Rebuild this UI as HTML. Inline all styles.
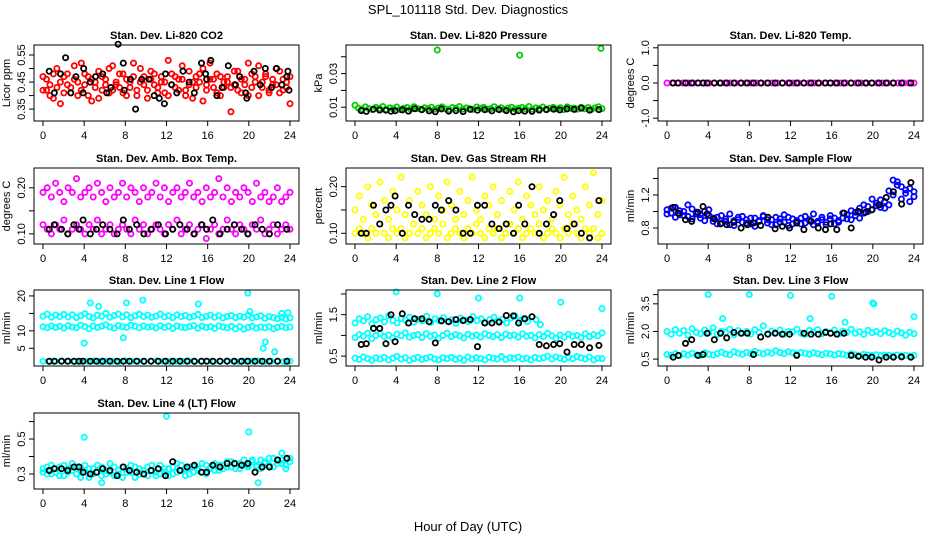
<!DOCTYPE html>
<html><head><meta charset="utf-8"><style>
html,body{margin:0;padding:0;background:#fff;}
svg{display:block;font-family:"Liberation Sans",sans-serif;}
</style></head><body>
<svg id="chart" width="936" height="540" viewBox="0 0 936 540" xmlns="http://www.w3.org/2000/svg">
<rect width="936" height="540" fill="#fff"/>
<text x="468" y="14" text-anchor="middle" font-size="13">SPL_101118  Std. Dev. Diagnostics</text>
<text x="468" y="531" text-anchor="middle" font-size="13">Hour of Day (UTC)</text>
</svg>
<script>
// ---- data ----
const xTicks = [0,4,8,12,16,20,24];
const blackHours = [0.6,1.1,1.8,2.4,3.0,3.5,3.9,4.6,5.2,5.8,6.5,7.2,7.8,8.4,9.1,9.8,10.5,11.2,11.9,12.6,13.3,14.0,14.7,15.4,15.9,16.5,17.2,17.9,18.6,19.3,19.9,20.6,21.3,22.0,22.8,23.7];

const co2Red1 = [0.47,0.42,0.44,0.39,0.50,0.45,0.41,0.48,0.43,0.46,0.40,0.52,0.44,0.47,0.38,0.45,0.49,0.42,0.46,0.41,0.51,0.44,0.43,0.48,0.40,0.45,0.47,0.42,0.50,0.44,0.39,0.46,0.48,0.43,0.45,0.41,0.53,0.44,0.47,0.42,0.46,0.40,0.49,0.45,0.43,0.48,0.38,0.44,0.52,0.46,0.41,0.47,0.43,0.45,0.34,0.49,0.42,0.46,0.44,0.40,0.48,0.45,0.51,0.43,0.47,0.41,0.46,0.44,0.49,0.42,0.45,0.37];
const co2Red2 = [0.42,0.46,0.40,0.48,0.43,0.37,0.47,0.44,0.41,0.51,0.45,0.42,0.48,0.40,0.46,0.43,0.39,0.47,0.44,0.50,0.42,0.45,0.48,0.41,0.46,0.43,0.52,0.40,0.45,0.47,0.42,0.49,0.44,0.41,0.47,0.45,0.40,0.48,0.43,0.46,0.51,0.42,0.44,0.39,0.47,0.45,0.50,0.42,0.46,0.43,0.48,0.40,0.45,0.47,0.43,0.44,0.49,0.41,0.46,0.52,0.43,0.47,0.40,0.45,0.48,0.42,0.44,0.50,0.41,0.46,0.43,0.47];
const co2BlackHours = [0.6,1.1,1.7,2.2,2.7,3.2,3.9,3.95,4.6,5.1,5.8,6.2,6.6,7.3,7.8,7.9,8.5,9.0,9.6,10.3,10.8,11.3,11.8,11.9,12.5,13.0,13.6,14.2,14.7,15.4,15.8,15.9,16.3,16.9,17.4,18.0,18.7,19.1,19.7,19.8,20.5,21.1,21.6,22.2,22.7,23.2,23.7,23.8,23.9];
const co2Black = [0.49,0.41,0.48,0.54,0.41,0.47,0.41,0.50,0.45,0.47,0.48,0.41,0.43,0.59,0.52,0.42,0.46,0.35,0.46,0.46,0.40,0.39,0.37,0.48,0.44,0.41,0.49,0.45,0.41,0.52,0.48,0.46,0.53,0.40,0.43,0.51,0.44,0.47,0.41,0.39,0.49,0.44,0.50,0.43,0.50,0.44,0.47,0.49,0.42];

const presGreen = [0.0112,0.0095,0.0088,0.0102,0.0091,0.0085,0.0099,0.0093,0.0104,0.0087,0.0096,0.0090,0.0101,0.0086,0.0094,0.0098,0.0089,0.0103,0.0092,0.0087,0.0097,0.0091,0.0100,0.0088,0.0095,0.0102,0.0090,0.0086,0.0098,0.0093,0.0104,0.0089,0.0096,0.0091,0.0087,0.0101,0.0094,0.0099,0.0088,0.0092,0.0103,0.0090,0.0097,0.0086,0.0095,0.0100,0.0089,0.0093,0.0098,0.0091,0.0104,0.0087,0.0096,0.0092,0.0101,0.0088,0.0094,0.0099,0.0090,0.0097,0.0086,0.0102,0.0093,0.0095,0.0089,0.0100,0.0091,0.0098,0.0087,0.0096,0.0103,0.0092];
const presOutHours = [8.0,16.0,23.9];
const presOut = [0.0440,0.0410,0.0450];
const presBlack = [0.0080,0.0075,0.0088,0.0083,0.0082,0.0076,0.0079,0.0084,0.0077,0.0091,0.0085,0.0078,0.0073,0.0090,0.0076,0.0079,0.0074,0.0087,0.0082,0.0085,0.0078,0.0086,0.0080,0.0073,0.0079,0.0077,0.0075,0.0083,0.0086,0.0088,0.0084,0.0090,0.0087,0.0095,0.0083,0.0086];

const tempMag = [0,0,0,0,0,0,0,0,0,0,0,0,0,0,0,0,0,0,0,0,0,0,0,0,0,0,0,0,0,0,0,0,0,0,0,0,0,0,0,0,0,0,0,0,0,0,0,0];
const tempBlack = [0,0,0,0,0,0,0,0,0,0,0,0,0,0,0,0,0,0,0,0,0,0,0,0,0,0,0,0,0,0,0,0,0,0,0,0];

const ambUpper = [0.19,0.20,0.18,0.21,0.19,0.17,0.20,0.19,0.22,0.18,0.19,0.20,0.18,0.21,0.19,0.17,0.20,0.18,0.19,0.21,0.18,0.20,0.19,0.17,0.20,0.18,0.19,0.21,0.18,0.20,0.17,0.19,0.20,0.18,0.19,0.21,0.18,0.19,0.17,0.20,0.18,0.19,0.22,0.18,0.20,0.17,0.19,0.18,0.20,0.19,0.17,0.21,0.18,0.19,0.17,0.18,0.20,0.17,0.18,0.19];
const ambLower = [0.12,0.11,0.10,0.12,0.11,0.13,0.10,0.11,0.12,0.11,0.10,0.12,0.11,0.13,0.10,0.11,0.12,0.10,0.11,0.12,0.11,0.10,0.13,0.11,0.12,0.10,0.11,0.12,0.11,0.10,0.12,0.11,0.13,0.10,0.11,0.12,0.10,0.11,0.12,0.09,0.11,0.12,0.10,0.11,0.13,0.11,0.10,0.12,0.11,0.10,0.12,0.11,0.13,0.10,0.11,0.12,0.10,0.11,0.12,0.11];
const ambBlack = [0.11,0.12,0.11,0.10,0.12,0.11,0.13,0.10,0.11,0.12,0.11,0.10,0.13,0.11,0.12,0.10,0.11,0.12,0.10,0.11,0.12,0.11,0.10,0.12,0.11,0.13,0.10,0.11,0.12,0.11,0.10,0.12,0.11,0.10,0.12,0.11];

const rhLow = [0.10,0.11,0.10,0.09,0.11,0.10,0.12,0.10,0.09,0.11,0.10,0.11,0.09,0.10,0.12,0.10,0.11,0.09,0.10,0.11,0.10,0.12,0.09,0.10,0.11,0.10,0.09,0.11,0.10,0.12,0.10,0.09,0.11,0.10,0.11,0.09,0.10,0.12,0.10,0.11,0.09,0.10,0.11,0.10,0.12,0.09,0.10,0.11,0.10,0.09,0.11,0.10,0.12,0.10,0.09,0.11,0.10,0.11,0.09,0.10];
const rhHigh = [0.15,0.18,0.13,0.20,0.16,0.14,0.21,0.17,0.13,0.19,0.15,0.22,0.14,0.17,0.12,0.19,0.16,0.14,0.20,0.13,0.18,0.15,0.21,0.16,0.13,0.19,0.14,0.17,0.22,0.15,0.13,0.18,0.16,0.20,0.14,0.17,0.12,0.19,0.15,0.21,0.13,0.18,0.16,0.14,0.20,0.15,0.17,0.13,0.19,0.16,0.22,0.14,0.18,0.15,0.13,0.20,0.16,0.23,0.14,0.17];
const rhBlack = [0.10,0.10,0.16,0.12,0.15,0.16,0.18,0.10,0.16,0.14,0.13,0.13,0.16,0.15,0.17,0.15,0.10,0.10,0.16,0.16,0.12,0.11,0.12,0.10,0.16,0.12,0.20,0.10,0.12,0.14,0.17,0.11,0.12,0.10,0.09,0.17];

const sfBlue1 = [1.02,0.98,1.05,0.96,1.00,0.94,1.03,0.97,0.92,1.00,0.95,0.88,0.93,0.86,0.91,0.84,0.89,0.93,0.87,0.90,0.85,0.92,0.88,0.94,0.86,0.90,0.84,0.91,0.87,0.93,0.85,0.89,0.92,0.86,0.90,0.84,0.88,0.93,0.87,0.91,0.85,0.89,0.92,0.96,0.90,0.99,1.04,0.98,1.06,1.02,1.10,1.05,1.12,1.08,1.20,1.36,1.30,1.22,1.28,1.18];
const sfBlue2 = [0.97,1.04,0.93,1.01,0.95,1.08,0.91,0.99,0.96,0.89,1.02,0.92,0.85,0.95,0.88,0.97,0.83,0.90,0.94,0.86,0.92,0.82,0.89,0.95,0.90,0.84,0.93,0.87,0.96,0.83,0.91,0.88,0.85,0.94,0.89,0.97,0.86,0.90,0.84,0.95,0.92,0.87,0.98,0.91,1.01,0.95,0.92,1.08,1.00,1.15,1.07,1.14,1.04,1.25,1.38,1.32,1.15,1.26,1.12,1.24];
const sfBlack = [1.05,0.98,0.90,0.88,0.99,1.06,0.97,0.91,0.85,0.84,0.87,0.80,0.84,0.86,0.83,0.93,0.79,0.82,0.80,0.86,0.78,0.88,0.80,0.78,0.85,0.78,0.98,0.80,1.00,0.99,1.02,1.08,1.17,1.24,1.09,1.35];

const l1Upper = [14.2,14.8,13.9,14.5,14.1,14.7,14.0,14.6,13.8,14.3,14.9,14.1,13.7,14.5,14.2,15.0,13.9,14.4,14.8,14.0,14.6,13.8,14.3,14.7,14.1,14.5,13.9,14.2,14.8,14.0,14.3,13.8,14.6,14.1,14.4,13.9,14.2,14.7,13.8,14.1,14.5,13.9,14.3,13.7,14.1,14.4,13.8,14.2,13.9,14.5,13.7,14.0,14.3,13.6,14.1,13.8,13.5,13.9,13.4,13.7];
const l1Lower = [11.2,10.9,11.4,11.0,11.3,10.8,11.5,11.1,10.9,11.6,11.2,10.6,11.4,11.0,11.3,11.7,11.1,10.8,11.5,11.2,11.0,11.6,11.3,10.9,11.4,11.1,11.2,10.8,11.5,11.0,11.3,10.7,11.4,11.1,10.9,11.2,11.5,10.8,11.3,11.0,11.2,10.7,11.4,11.1,10.9,11.3,10.6,11.2,10.5,11.0,11.3,10.8,11.1,10.9,11.2,10.6,11.0,11.3,10.9,11.1];
const l1Bottom = [1.3,1.2,1.3,1.4,1.3,1.2,1.3,1.3,1.4,1.2,1.3,1.3,1.2,1.4,1.3,1.3,1.2,1.3,1.4,1.3,1.2,1.3,1.3,1.4,1.2,1.3,1.3,1.2,1.3,1.4,1.3,1.2,1.3,1.3,1.4,1.2,1.3,1.3,1.2,1.3];
const l1OutHours = [4.0,4.6,5.4,7.8,8.1,9.7,15.1,19.9,20.1,21.4,21.6,22.5,23.2,23.8];
const l1Out = [6.5,18.0,17.0,8.0,18.0,18.8,17.7,20.8,15.5,5.0,6.8,4.0,15.0,15.2];
const l1Black = [1.3,1.3,1.3,1.3,1.3,1.3,1.3,1.3,1.3,1.3,1.3,1.3,1.3,1.3,1.3,1.3,1.3,1.3,1.3,1.3,1.3,1.3,1.3,1.3,1.3,1.3,1.3,1.3,1.3,1.3,1.3,1.3,1.3,1.3,1.3,1.3];

const l2Upper = [1.30,1.40,1.35,1.45,1.28,1.38,1.42,1.33,1.47,1.36,1.30,1.41,1.37,1.44,1.32,1.39,1.35,1.46,1.31,1.40,1.36,1.43,1.34,1.38,1.29,1.42,1.37,1.33,1.45,1.36,1.40,1.31,1.38,1.44,1.35,1.39,1.30,1.42,1.47,1.36,1.40,1.33,1.45,1.38,1.26];
const l2Mid = [0.95,1.02,0.98,1.05,0.92,1.00,1.04,0.97,1.01,0.94,1.03,0.99,1.06,0.96,1.00,1.02,0.95,1.04,0.98,1.01,0.93,1.00,1.05,0.97,1.02,0.99,0.94,1.03,0.98,1.01,0.96,1.04,1.00,0.97,1.02,0.95,1.03,0.99,1.01,0.96,1.04,0.98,1.00,0.94,1.02,0.97,1.05,0.99,0.93,1.01,0.96,1.03,0.98,1.00,0.95,1.04,0.97,1.02,0.99,1.06];
const l2Low = [0.45,0.42,0.48,0.44,0.40,0.46,0.43,0.47,0.41,0.45,0.49,0.43,0.46,0.40,0.44,0.47,0.42,0.45,0.48,0.43,0.41,0.46,0.44,0.47,0.42,0.45,0.40,0.48,0.43,0.46,0.44,0.41,0.47,0.45,0.43,0.49,0.42,0.46,0.44,0.48,0.43,0.45,0.41,0.47,0.44,0.46,0.50,0.43,0.48,0.45,0.42,0.47,0.44,0.49,0.46,0.43,0.48,0.41,0.45,0.44];
const l2OutHours = [4.0,8.0,12.0,16.0,20.0,24.0];
const l2Out = [2.05,2.00,1.90,1.90,1.80,1.65];
const l2Black = [0.78,0.80,1.17,1.17,0.80,1.50,0.85,1.52,1.30,1.40,1.40,1.33,0.82,1.35,1.33,1.38,1.36,1.38,0.73,1.30,1.30,1.32,1.48,1.47,1.30,1.40,1.45,0.78,0.75,0.78,0.80,0.60,0.78,0.78,0.70,0.76];

const l3Upper = [2.00,1.85,2.10,1.90,2.05,1.80,2.15,1.95,1.88,2.08,1.92,2.20,1.85,2.00,1.95,2.12,1.82,2.05,1.90,2.00,1.86,2.10,1.95,2.30,1.88,2.02,1.93,2.08,1.85,2.00,1.97,2.12,1.90,1.84,2.05,1.95,2.10,1.88,2.00,1.92,2.08,1.86,2.02,1.95,2.12,1.90,1.98,1.84,2.06,1.93,2.00,1.88,2.04,1.95,1.85,2.02,1.92,1.80,1.96,1.88];
const l3Lower = [0.75,0.70,0.80,0.68,0.78,0.72,0.82,0.74,0.70,0.85,0.76,0.72,0.80,0.88,0.78,0.74,0.90,0.82,0.76,0.86,0.80,0.92,0.84,0.78,0.88,0.82,0.95,0.86,0.80,0.90,0.84,0.78,0.86,0.82,0.76,0.84,0.80,0.74,0.82,0.78,0.72,0.80,0.76,0.70,0.78,0.74,0.68,0.76,0.72,0.70,0.74,0.68,0.72,0.70,0.66,0.72,0.68,0.70,0.66,0.70];
const l3OutHours = [4.0,8.0,12.0,16.0,20.0,20.1,24.0,5.4,13.9,17.3];
const l3Out = [4.00,4.00,3.95,3.90,3.55,3.50,2.80,2.70,2.70,2.50];
const l3Black = [0.60,0.70,1.35,1.55,0.70,0.75,1.90,1.55,1.90,1.65,1.95,1.90,1.90,0.75,1.70,1.85,1.90,1.85,1.85,0.70,1.90,1.85,1.85,1.95,1.90,1.85,1.90,0.70,0.65,0.60,0.60,0.45,0.60,0.60,0.62,0.60];

const l4Cyan1 = [0.33,0.30,0.35,0.31,0.34,0.29,0.33,0.36,0.30,0.32,0.35,0.28,0.33,0.31,0.34,0.30,0.36,0.29,0.32,0.34,0.31,0.35,0.28,0.33,0.30,0.34,0.32,0.29,0.35,0.31,0.33,0.30,0.36,0.32,0.29,0.34,0.31,0.33,0.36,0.30,0.34,0.32,0.35,0.33,0.37,0.34,0.36,0.33,0.38,0.35,0.37,0.34,0.38,0.36,0.35,0.39,0.36,0.38,0.35,0.37];
const l4Cyan2 = [0.31,0.34,0.30,0.33,0.29,0.35,0.31,0.32,0.34,0.28,0.31,0.33,0.30,0.35,0.29,0.32,0.31,0.34,0.30,0.28,0.33,0.31,0.34,0.30,0.32,0.29,0.35,0.31,0.30,0.33,0.29,0.34,0.31,0.35,0.33,0.30,0.34,0.32,0.31,0.35,0.33,0.36,0.32,0.35,0.34,0.37,0.33,0.36,0.35,0.34,0.38,0.35,0.33,0.37,0.39,0.34,0.38,0.36,0.33,0.39];
const l4OutHours = [4.0,12.0,20.0,23.2,20.9,5.7];
const l4Out = [0.51,0.63,0.54,0.42,0.25,0.25];
const l4Black = [0.32,0.33,0.33,0.32,0.34,0.34,0.31,0.30,0.31,0.33,0.32,0.29,0.34,0.32,0.31,0.30,0.32,0.33,0.29,0.37,0.32,0.34,0.35,0.31,0.31,0.35,0.34,0.36,0.36,0.35,0.36,0.31,0.34,0.34,0.38,0.39];

// ---- layout (not data) ----
const colLeft = [34,346,658], rowTop = [45,168,290,413], boxW = 265, boxH = 76;
const NS = 'http://www.w3.org/2000/svg';
const svg = document.getElementById('chart');
function mk(tag, attrs, parent){ const e=document.createElementNS(NS,tag); for(const k in attrs) e.setAttribute(k,attrs[k]); (parent||svg).appendChild(e); return e; }

function evenHours(n){ const h=[]; for(let i=0;i<n;i++) h.push(i*24/(n-1)); return h; }

const panels = [
 {slug:'co2', title:'Stan. Dev. Li-820 CO2', ylab:'Licor ppm', c:0, r:0, ymin:0.306, ymax:0.587, ticks:[0.35,0.40,0.45,0.50,0.55], labels:['0.35','0.45','0.55'], labelVals:[0.35,0.45,0.55],
  series:[{v:co2Red1,col:'#ff0000'},{v:co2Red2,col:'#ff0000'},{h:co2BlackHours,v:co2Black,col:'#000'}]},
 {slug:'pressure', title:'Stan. Dev. Li-820 Pressure', ylab:'kPa', c:1, r:0, ymin:0.0018, ymax:0.047, ticks:[0.01,0.02,0.03,0.04], labels:['0.01','0.03'], labelVals:[0.01,0.03],
  series:[{v:presGreen,col:'#00cc00'},{h:presOutHours,v:presOut,col:'#00cc00'},{h:blackHours,v:presBlack,col:'#000'}]},
 {slug:'temp', title:'Stan. Dev. Li-820 Temp.', ylab:'degrees C', c:2, r:0, ymin:-1.08, ymax:1.08, ticks:[-1,-0.5,0,0.5,1], labels:['-1.0','0.0','1.0'], labelVals:[-1,0,1],
  series:[{v:tempMag,col:'#ff00ff'},{h:blackHours,v:tempBlack,col:'#000'}]},
 {slug:'amb-temp', title:'Stan. Dev. Amb. Box Temp.', ylab:'degrees C', c:0, r:1, ymin:0.078, ymax:0.243, ticks:[0.10,0.15,0.20], labels:['0.10','0.20'], labelVals:[0.10,0.20],
  series:[{v:ambUpper,col:'#ff00ff'},{v:ambLower,col:'#ff00ff'},{h:blackHours,v:ambBlack,col:'#000'}]},
 {slug:'rh', title:'Stan. Dev. Gas Stream RH', ylab:'percent', c:1, r:1, ymin:0.077, ymax:0.240, ticks:[0.10,0.15,0.20], labels:['0.10','0.20'], labelVals:[0.10,0.20],
  series:[{v:rhLow,col:'#ffff00'},{v:rhHigh,col:'#ffff00'},{h:blackHours,v:rhBlack,col:'#000'}]},
 {slug:'sample-flow', title:'Stan. Dev. Sample Flow', ylab:'ml/min', c:2, r:1, ymin:0.606, ymax:1.527, ticks:[0.8,1.0,1.2,1.4], labels:['0.8','1.2'], labelVals:[0.8,1.2],
  series:[{v:sfBlue1,col:'#0000ff'},{v:sfBlue2,col:'#0000ff'},{h:blackHours,v:sfBlack,col:'#000'}]},
 {slug:'line1', title:'Stan. Dev. Line 1 Flow', ylab:'ml/min', c:0, r:2, ymin:-0.07, ymax:21.7, ticks:[5,10,15,20], labels:['5','10','20'], labelVals:[5,10,20],
  series:[{v:l1Upper,col:'#00ffff'},{v:l1Lower,col:'#00ffff'},{v:l1Bottom,col:'#00ffff'},{h:l1OutHours,v:l1Out,col:'#00ffff'},{h:blackHours,v:l1Black,col:'#000'}]},
 {slug:'line2', title:'Stan. Dev. Line 2 Flow', ylab:'ml/min', c:1, r:2, ymin:0.262, ymax:2.095, ticks:[0.5,1.0,1.5,2.0], labels:['0.5','1.5'], labelVals:[0.5,1.5],
  series:[{v:l2Upper,col:'#00ffff',span:18},{v:l2Mid,col:'#00ffff'},{v:l2Low,col:'#00ffff'},{h:l2OutHours,v:l2Out,col:'#00ffff'},{h:blackHours,v:l2Black,col:'#000'}]},
 {slug:'line3', title:'Stan. Dev. Line 3 Flow', ylab:'ml/min', c:2, r:2, ymin:0.125, ymax:4.25, ticks:[0.5,2.0,3.5,4.0], labels:['0.5','2.0','3.5'], labelVals:[0.5,2.0,3.5],
  series:[{v:l3Upper,col:'#00ffff'},{v:l3Lower,col:'#00ffff'},{h:l3OutHours,v:l3Out,col:'#00ffff'},{h:blackHours,v:l3Black,col:'#000'}]},
 {slug:'line4', title:'Stan. Dev. Line 4 (LT) Flow', ylab:'ml/min', c:0, r:3, ymin:0.214, ymax:0.649, ticks:[0.3,0.4,0.5,0.6], labels:['0.3','0.5'], labelVals:[0.3,0.5],
  series:[{v:l4Cyan1,col:'#00ffff'},{v:l4Cyan2,col:'#00ffff'},{h:l4OutHours,v:l4Out,col:'#00ffff'},{h:blackHours,v:l4Black,col:'#000'}]}
];

panels.forEach(p=>{
  const L = colLeft[p.c], T = rowTop[p.r], B = T+boxH, R = L+boxW;
  const xs = h => L + 9 + h*(boxW-18)/24;
  const ys = v => B - (v-p.ymin)/(p.ymax-p.ymin)*boxH;
  const g = mk('g',{});
  
  
  const t = mk('text',{x:(L+R)/2, y:T-6, 'text-anchor':'middle', 'font-size':11, 'font-weight':'bold'}, g);
  t.textContent = p.title;
  
  
  const pts = mk('g',{fill:'none','stroke-width':1.8}, g);
  
  
  p.series.forEach(s=>{
    const hrs = s.h || evenHours(s.v.length).map(h=> s.span ? h*s.span/24 : h);
    s.v.forEach((v,i)=>{
      const y = ys(v);
      if (y < T-2 || y > B+2) return;
      const c = mk('circle',{cx:xs(hrs[i]).toFixed(1), cy:y.toFixed(1), r:2.6, stroke:s.col}, pts);
      
      
    });
  });
  const bx = mk('rect',{x:L, y:T, width:boxW, height:boxH, fill:'none', stroke:'#000', 'stroke-width':1}, g);
  
  
  const xa = mk('g',{stroke:'#000','stroke-width':1}, g);
  
  
  mk('line',{x1:xs(0), x2:xs(24), y1:B, y2:B}, xa);
  xTicks.forEach(v=>{
    mk('line',{x1:xs(v), x2:xs(v), y1:B, y2:B+5}, xa);
    const tl = mk('text',{x:xs(v), y:B+18, 'text-anchor':'middle', 'font-size':11, stroke:'none', fill:'#000'}, g);
    tl.textContent = String(v);
    
    
  });
  const ya = mk('g',{stroke:'#000','stroke-width':1}, g);
  
  
  const tv = p.ticks.filter(v=> ys(v)>=T-1 && ys(v)<=B+1);
  mk('line',{x1:L, x2:L, y1:ys(tv[0]), y2:ys(tv[tv.length-1])}, ya);
  tv.forEach(v=> mk('line',{x1:L-5, x2:L, y1:ys(v), y2:ys(v)}, ya));
  p.labelVals.forEach((v,i)=>{
    const x = L-9, y = ys(v);
    const tl = mk('text',{x:x, y:y, 'text-anchor':'middle', 'font-size':11, transform:`rotate(-90 ${x} ${y})`}, g);
    tl.textContent = p.labels[i];
    
    
  });
  const yx = L-24, yy = (T+B)/2;
  const yl = mk('text',{x:yx, y:yy, 'text-anchor':'middle', 'font-size':11, transform:`rotate(-90 ${yx} ${yy})`}, g);
  yl.textContent = p.ylab;
  
  
});
</script>
</body></html>
